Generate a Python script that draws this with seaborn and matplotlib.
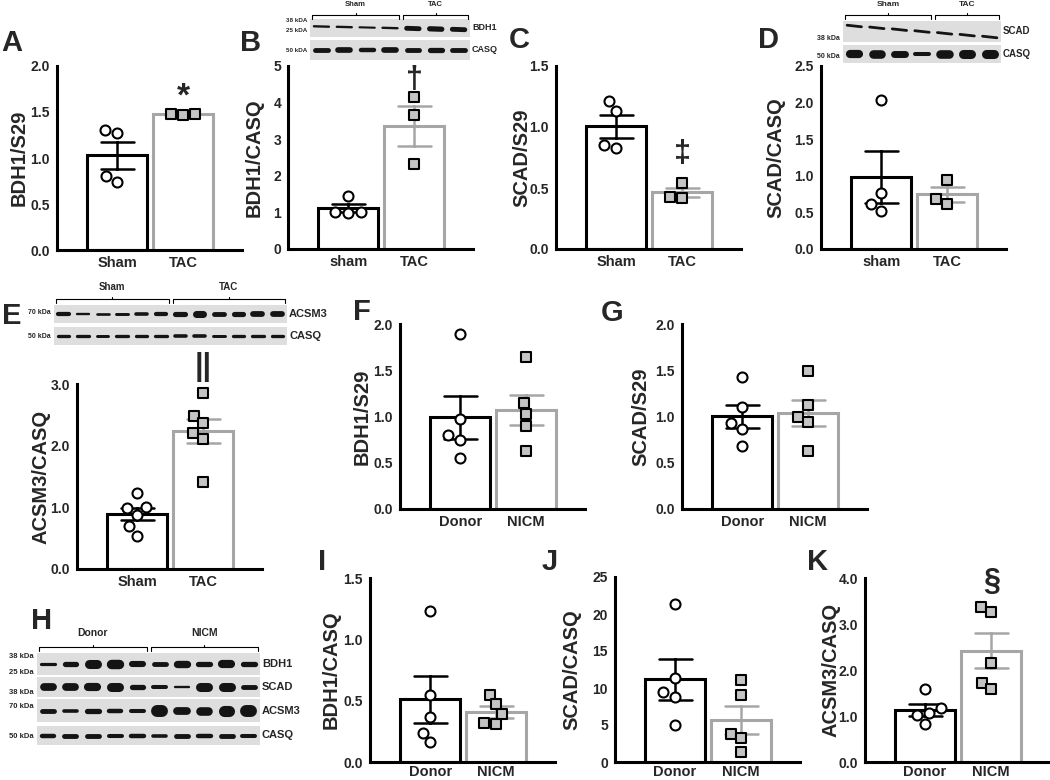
import matplotlib
matplotlib.use('Agg')
import matplotlib.pyplot as plt
from matplotlib.patches import Rectangle
from matplotlib.ticker import FormatStrFormatter
import pandas as pd
import seaborn as sns

# values (one list per group)
a_sham = [1.30, 1.27, 0.80, 0.74]
a_tac = [1.48, 1.47, 1.48]
b_sham = [1.45, 1.00, 0.98, 1.02]
b_tac = [4.14, 3.66, 2.31]
c_sham = [1.21, 1.13, 0.85, 0.83]
c_tac = [0.54, 0.42, 0.43]
d_sham = [2.04, 0.77, 0.62, 0.52]
d_tac = [0.94, 0.68, 0.62]
e_sham = [1.24, 0.99, 1.01, 0.875, 0.69, 0.54]
e_tac = [2.86, 2.48, 2.37, 2.21, 2.11, 1.41]
f_donor = [1.89, 0.97, 0.80, 0.75, 0.55]
f_nicm = [1.64, 1.15, 1.03, 0.90, 0.63]
g_donor = [1.43, 1.10, 0.93, 0.87, 0.68]
g_nicm = [1.49, 1.12, 1.00, 0.94, 0.63]
i_donor = [1.23, 0.55, 0.37, 0.24, 0.16]
i_nicm = [0.55, 0.47, 0.39, 0.31, 0.32]
j_donor = [21.4, 11.3, 9.4, 8.8, 5.0]
j_nicm = [11.1, 9.1, 3.85, 3.2, 1.3]
k_donor = [1.58, 1.17, 1.02, 1.07, 0.82]
k_nicm = [3.37, 3.26, 2.15, 1.72, 1.58]

mouse_groups = ['Sham', 'TAC']
mouse_groups_lc = ['sham', 'TAC']
human_groups = ['Donor', 'NICM']

# western blot band strengths (relative, read by eye)
b_bdh1 = [0.15, 0.15, 0.12, 0.15, 0.45, 0.5, 0.45]
b_casq = [0.45, 0.55, 0.4, 0.55, 0.45, 0.5, 0.45]
d_scad = [0.2, 0.2, 0.2, 0.2, 0.2, 0.2, 0.2]
d_casq = [0.85, 0.9, 0.7, 0.35, 0.9, 0.95, 0.95]
e_acsm3 = [0.5, 0.2, 0.25, 0.3, 0.4, 0.5, 0.65, 0.95, 0.6, 0.65, 0.75, 0.75]
e_casq = [0.35, 0.35, 0.3, 0.35, 0.35, 0.35, 0.4, 0.4, 0.3, 0.35, 0.35, 0.35]
h_bdh1 = [0.25, 0.5, 0.95, 1.0, 0.6, 0.45, 0.75, 0.5, 0.85, 0.5]
h_scad = [0.8, 0.8, 0.85, 0.95, 0.5, 0.35, 0.15, 0.95, 0.95, 0.45]
h_acsm3 = [0.45, 0.3, 0.5, 0.4, 0.35, 1.3, 0.8, 0.9, 1.2, 1.3]
h_casq = [0.4, 0.45, 0.45, 0.35, 0.4, 0.3, 0.45, 0.4, 0.45, 0.35]

BLACK = '#000000'
GRAY = '#a6a6a6'
SQ_FILL = '#c4c4c4'
BLOT_BG = '#dedede'

sns.set_style('white')
plt.rcParams['font.family'] = ['Liberation Sans', 'DejaVu Sans']
plt.rcParams['font.weight'] = 'bold'
plt.rcParams['axes.labelweight'] = 'bold'

W, H = 1050, 780
fig = plt.figure(figsize=(10.5, 7.8), dpi=100)


def px_axes(left, top, bottom, width=185):
    return fig.add_axes([left / W, 1 - bottom / H, width / W, (bottom - top) / H])


def draw_panel(left, top, bottom, groups, v1, v2, ymax, step, fmt, ylabel, ylab_x,
               sig=None, sig_y=None, sig_size=20, xpad=4):
    ax = px_axes(left, top, bottom)
    df = pd.DataFrame({'group': [groups[0]] * len(v1) + [groups[1]] * len(v2),
                       'value': v1 + v2})
    sns.barplot(data=df, x='group', y='value', hue='group', order=groups,
                hue_order=groups, palette=[BLACK, GRAY], fill=False,
                errorbar='se', capsize=0.5, width=0.9, linewidth=2.2,
                err_kws={'linewidth': 1.8}, legend=False, ax=ax)
    sns.swarmplot(data=df[df.group == groups[0]], x='group', y='value', order=groups,
                  marker='o', color='white', edgecolor=BLACK, linewidth=1.5,
                  size=7.2, ax=ax)
    sns.swarmplot(data=df[df.group == groups[1]], x='group', y='value', order=groups,
                  marker='s', color=SQ_FILL, edgecolor=BLACK, linewidth=1.5,
                  size=6.6, ax=ax)
    ax.set_xlim(-0.91, 1.89)
    ax.set_ylim(0, ymax)
    ticks = [k * step for k in range(int(round(ymax / step)) + 1)]
    ax.set_yticks(ticks)
    ax.yaxis.set_major_formatter(FormatStrFormatter(fmt))
    for s in ['top', 'right']:
        ax.spines[s].set_visible(False)
    for s in ['left', 'bottom']:
        ax.spines[s].set_linewidth(2.2)
        ax.spines[s].set_color(BLACK)
    ax.tick_params(axis='y', direction='out', length=4, width=1.8, labelsize=10, pad=1)
    ax.tick_params(axis='x', length=0, labelsize=10.5, pad=xpad)
    ax.set_xlabel('')
    ax.set_ylabel(ylabel, fontsize=14.5, va='center')
    ax.yaxis.set_label_coords((ylab_x - left) / 185, 0.5)
    if sig:
        ax.text(1, sig_y, sig, ha='center', va='center', fontsize=sig_size,
                fontweight='bold', clip_on=False)
    return ax


draw_panel(57, 66, 250, mouse_groups, a_sham, a_tac, 2.0, 0.5, '%.1f', 'BDH1/S29', 19,
           '*', 1.66, 24)
draw_panel(288, 66, 249, mouse_groups_lc, b_sham, b_tac, 5, 1, '%d', 'BDH1/CASQ', 254,
           '\u2020', 4.62, 22)
draw_panel(556, 66, 249, mouse_groups, c_sham, c_tac, 1.5, 0.5, '%.1f', 'SCAD/S29', 522,
           '\u2021', 0.78, 22)
draw_panel(821, 66, 249, mouse_groups_lc, d_sham, d_tac, 2.5, 0.5, '%.1f', 'SCAD/CASQ', 776)
draw_panel(77, 384, 569, mouse_groups, e_sham, e_tac, 3.0, 1.0, '%.1f', 'ACSM3/CASQ', 41,
           '||', 3.27, 22)
draw_panel(400, 324, 509, human_groups, f_donor, f_nicm, 2.0, 0.5, '%.1f', 'BDH1/S29', 362)
draw_panel(682, 324, 509, human_groups, g_donor, g_nicm, 2.0, 0.5, '%.1f', 'SCAD/S29', 641)
draw_panel(370, 578, 762, human_groups, i_donor, i_nicm, 1.5, 0.5, '%.1f', 'BDH1/CASQ', 331,
           xpad=2)
draw_panel(615, 577, 762, human_groups, j_donor, j_nicm, 25, 5, '%d', 'SCAD/CASQ', 572,
           xpad=2)
draw_panel(865, 578, 762, human_groups, k_donor, k_nicm, 4.0, 1.0, '%.1f', 'ACSM3/CASQ', 831,
           '\u00a7', 3.92, 22, xpad=2)

# panel letters
for letter, x, y in [('A', 12, 43), ('B', 251, 43), ('C', 519, 40), ('D', 768, 40),
                     ('E', 12, 316), ('F', 362, 312), ('G', 612, 313), ('H', 42, 621),
                     ('I', 322, 562), ('J', 550, 562), ('K', 818, 562)]:
    fig.text(x / W, 1 - y / H, letter, ha='center', va='center', fontsize=21,
             fontweight='bold')

# overlay in pixel coordinates for the blot images
ov = fig.add_axes([0, 0, 1, 1], zorder=-1)
ov.set_xlim(0, W)
ov.set_ylim(H, 0)
ov.axis('off')


def draw_blot(x0, x1, rows, kda, groups, sizes, head_y, br_y,
              fs_row, fs_kda, fs_grp, band_scale=6):
    n = sum(sizes)
    lane = (x1 - x0) / n
    for name, y0, y1, bands, tilt in rows:
        ov.add_patch(Rectangle((x0, y0), x1 - x0, y1 - y0, color=BLOT_BG, lw=0))
        yc = (y0 + y1) / 2
        for i, w in enumerate(bands):
            xc = x0 + lane * (i + 0.5)
            yy = yc + tilt * (i / (n - 1) - 0.5)
            lw = 0.8 + band_scale * w
            half = max(lane * 0.38 - lw * 100 / 72 / 2, 1.0)
            ov.plot([xc - half, xc + half],
                    [yy - tilt / n / 2, yy + tilt / n / 2],
                    color='#141414', lw=lw, solid_capstyle='round')
        ov.text(x1 + 2, yc, name, ha='left', va='center', fontsize=fs_row,
                fontweight='bold')
    for txt, y in kda:
        ov.text(x0 - 3, y, txt, ha='right', va='center', fontsize=fs_kda,
                fontweight='bold')
    start = 0
    for g, s in zip(groups, sizes):
        a = x0 + lane * start + 2
        b = x0 + lane * (start + s) - 2
        ov.plot([a, a, b, b], [br_y + 4, br_y, br_y, br_y + 4], color=BLACK, lw=0.8)
        m = (a + b) / 2
        ov.plot([m, m], [br_y, br_y - 2.5], color=BLACK, lw=0.8)
        ov.text(m, head_y, g, ha='center', va='center', fontsize=fs_grp,
                fontweight='bold')
        start += s


draw_blot(310, 470, [('BDH1', 19, 37, b_bdh1, 3), ('CASQ', 40, 60, b_casq, 0)],
          [('38 kDA', 21), ('25 kDA', 30), ('50 kDA', 50)],
          ['Sham', 'TAC'], [4, 3], 5, 15, 6.5, 4.5, 5.5, band_scale=6)
draw_blot(843, 1001, [('SCAD', 21, 42, d_scad, 11), ('CASQ', 45, 63, d_casq, 0)],
          [('38 kDa', 38), ('50 kDa', 57)],
          ['Sham', 'TAC'], [4, 3], 4, 15, 7, 5, 6, band_scale=6)
draw_blot(54, 287, [('ACSM3', 305, 323, e_acsm3, 0), ('CASQ', 327, 345, e_casq, 0)],
          [('70 kDa', 313), ('50 kDa', 337)],
          ['Sham', 'TAC'], [6, 6], 287, 299, 8, 5, 7, band_scale=4.5)
draw_blot(37, 260, [('BDH1', 653, 675, h_bdh1, 0), ('SCAD', 677, 697, h_scad, 0),
                    ('ACSM3', 699, 722, h_acsm3, 0), ('CASQ', 726, 745, h_casq, 0)],
          [('38 kDa', 656), ('25 kDa', 672), ('38 kDa', 692), ('70 kDa', 707),
           ('50 kDa', 736)],
          ['Donor', 'NICM'], [5, 5], 633, 647, 8, 5.5, 7.5, band_scale=6)

fig.savefig('out.png', dpi=100)
